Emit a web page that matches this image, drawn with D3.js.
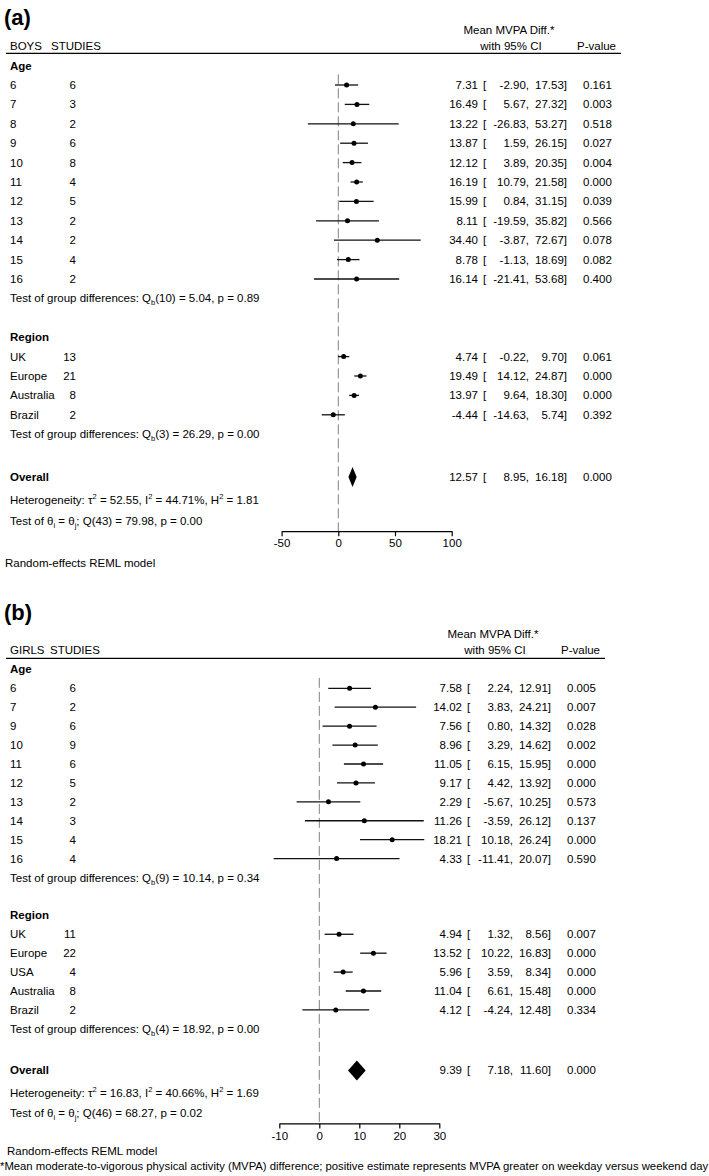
<!DOCTYPE html>
<html>
<head>
<meta charset="utf-8">
<script src="https://cdn.jsdelivr.net/npm/d3@7"></script>
<style>
  body { margin: 0; background: #fff; }
  text { font-family: "Liberation Sans", Arial, Helvetica, sans-serif; font-size: 11.5px; fill: #000; }
</style>
</head>
<body>
<svg id="canvas" width="709" height="1176"></svg>
<script>
// boys
const boysAges = ["6", "7", "8", "9", "10", "11", "12", "13", "14", "15", "16"];
const boysAgeStudies = [6, 3, 2, 6, 8, 4, 5, 2, 2, 4, 2];
const boysAgeEst = [7.31, 16.49, 13.22, 13.87, 12.12, 16.19, 15.99, 8.11, 34.40, 8.78, 16.14];
const boysAgeLo = [-2.90, 5.67, -26.83, 1.59, 3.89, 10.79, 0.84, -19.59, -3.87, -1.13, -21.41];
const boysAgeHi = [17.53, 27.32, 53.27, 26.15, 20.35, 21.58, 31.15, 35.82, 72.67, 18.69, 53.68];
const boysAgeP = [0.161, 0.003, 0.518, 0.027, 0.004, 0.000, 0.039, 0.566, 0.078, 0.082, 0.400];

const boysRegions = ["UK", "Europe", "Australia", "Brazil"];
const boysRegionStudies = [13, 21, 8, 2];
const boysRegionEst = [4.74, 19.49, 13.97, -4.44];
const boysRegionLo = [-0.22, 14.12, 9.64, -14.63];
const boysRegionHi = [9.70, 24.87, 18.30, 5.74];
const boysRegionP = [0.061, 0.000, 0.000, 0.392];

const boysOverall = [12.57, 8.95, 16.18, 0.000];
const boysAgeTest = ["10", "5.04", "0.89"];
const boysRegionTest = ["3", "26.29", "0.00"];
const boysHetero = ["52.55", "44.71%", "1.81"];
const boysQ = ["43", "79.98", "0.00"];
const boysTicks = [-50, 0, 50, 100];

// girls
const girlsAges = ["6", "7", "9", "10", "11", "12", "13", "14", "15", "16"];
const girlsAgeStudies = [6, 2, 6, 9, 6, 5, 2, 3, 4, 4];
const girlsAgeEst = [7.58, 14.02, 7.56, 8.96, 11.05, 9.17, 2.29, 11.26, 18.21, 4.33];
const girlsAgeLo = [2.24, 3.83, 0.80, 3.29, 6.15, 4.42, -5.67, -3.59, 10.18, -11.41];
const girlsAgeHi = [12.91, 24.21, 14.32, 14.62, 15.95, 13.92, 10.25, 26.12, 26.24, 20.07];
const girlsAgeP = [0.005, 0.007, 0.028, 0.002, 0.000, 0.000, 0.573, 0.137, 0.000, 0.590];

const girlsRegions = ["UK", "Europe", "USA", "Australia", "Brazil"];
const girlsRegionStudies = [11, 22, 4, 8, 2];
const girlsRegionEst = [4.94, 13.52, 5.96, 11.04, 4.12];
const girlsRegionLo = [1.32, 10.22, 3.59, 6.61, -4.24];
const girlsRegionHi = [8.56, 16.83, 8.34, 15.48, 12.48];
const girlsRegionP = [0.007, 0.000, 0.000, 0.000, 0.334];

const girlsOverall = [9.39, 7.18, 11.60, 0.000];
const girlsAgeTest = ["9", "10.14", "0.34"];
const girlsRegionTest = ["4", "18.92", "0.00"];
const girlsHetero = ["16.83", "40.66%", "1.69"];
const girlsQ = ["46", "68.27", "0.02"];
const girlsTicks = [-10, 0, 10, 20, 30];

const footnote =
  "*Mean moderate-to-vigorous physical activity (MVPA) difference; positive estimate represents MVPA greater on weekday versus weekend day";

const canvas = d3.select("#canvas");
const fmt = (v) => v.toFixed(2);
const fmtP = (v) => v.toFixed(3);

// text with little sub/superscripts: parts = [[str, "sub"|"sup"|""], ...]
const richText = (g, x, yy, parts) => {
  const t = g.append("text").attr("x", x).attr("y", yy);
  let shift = 0;
  parts.forEach(([s, mode]) => {
    const target = mode === "sub" ? 3 : mode === "sup" ? -5 : 0;
    const ts = t.append("tspan").attr("dy", target - shift).text(s);
    if (mode) ts.style("font-size", "7.5px");
    shift = target;
  });
  return t;
};

const drawPanel = (p) => {
  const g = canvas.append("g");
  const y = d3.scaleLinear().domain([0, 1]).range([p.y0, p.y0 + p.step]);
  const x = d3.scaleLinear().domain(p.domain).range(p.range);
  const bl = 4; // centre -> baseline
  const col = p.col;

  g.append("text").attr("x", 4).attr("y", p.labelY + 8)
    .attr("font-weight", "bold").style("font-size", "22px").text(p.label);

  g.append("text").attr("x", col + 31).attr("y", p.y0 - p.head1 + bl)
    .attr("text-anchor", "middle").text("Mean MVPA Diff.*");
  g.append("text").attr("x", col + 33).attr("y", p.y0 - p.head2 + bl)
    .attr("text-anchor", "middle").text("with 95% CI");
  g.append("text").attr("x", col + 99).attr("y", p.y0 - p.head2 + bl).text("P-value");
  g.append("text").attr("x", 10).attr("y", p.y0 - p.head2 + bl).text(p.sex);
  g.append("text").attr("x", p.studiesX).attr("y", p.y0 - p.head2 + bl).text("STUDIES");
  g.append("line")
    .attr("x1", 6).attr("x2", col + 143)
    .attr("y1", p.y0 - p.lineOff).attr("y2", p.y0 - p.lineOff)
    .attr("stroke", "#000").attr("stroke-width", 1.3);

  const ageRows = p.ages.map((a, i) => ({
    label: a, n: p.ageStudies[i], est: p.ageEst[i], lo: p.ageLo[i], hi: p.ageHi[i], pv: p.ageP[i], row: i,
  }));
  const regStart = p.ages.length + 3;
  const regRows = p.regions.map((r, i) => ({
    label: r, n: p.regionStudies[i], est: p.regionEst[i], lo: p.regionLo[i], hi: p.regionHi[i], pv: p.regionP[i], row: regStart + i,
  }));
  const rows = ageRows.concat(regRows);
  const testAgeRow = p.ages.length;
  const testRegRow = regStart + p.regions.length;
  const overallRow = 20.2;

  // zero line
  g.append("line")
    .attr("x1", x(0)).attr("x2", x(0))
    .attr("y1", y(-0.55)).attr("y2", y(23))
    .attr("stroke", "#808080").attr("stroke-width", 1).attr("stroke-dasharray", "10,4");

  g.append("text").attr("x", 10).attr("y", y(-1) + bl).attr("font-weight", "bold").text("Age");
  g.append("text").attr("x", 10).attr("y", y(regStart - 1) + bl).attr("font-weight", "bold").text("Region");
  g.append("text").attr("x", 10).attr("y", y(overallRow) + bl).attr("font-weight", "bold").text("Overall");

  const r = g.selectAll("g.row").data(rows).enter().append("g").attr("class", "row");
  r.append("text").attr("x", 10).attr("y", (d) => y(d.row) + bl).text((d) => d.label);
  r.append("text").attr("x", 76).attr("y", (d) => y(d.row) + bl).attr("text-anchor", "end").text((d) => d.n);
  r.append("line")
    .attr("x1", (d) => x(d.lo)).attr("x2", (d) => x(d.hi))
    .attr("y1", (d) => y(d.row)).attr("y2", (d) => y(d.row))
    .attr("stroke", "#111").attr("stroke-width", 1.3);
  r.append("circle").attr("cx", (d) => x(d.est)).attr("cy", (d) => y(d.row)).attr("r", 2.5).attr("fill", "#000");

  const numbers = (sel, rowOf) => {
    sel.append("text").attr("x", col).attr("y", (d) => y(rowOf(d)) + bl).attr("text-anchor", "end").text((d) => fmt(d.est));
    sel.append("text").attr("x", col + 5).attr("y", (d) => y(rowOf(d)) + bl).text("[");
    sel.append("text").attr("x", col + 51).attr("y", (d) => y(rowOf(d)) + bl).attr("text-anchor", "end").text((d) => fmt(d.lo) + ",");
    sel.append("text").attr("x", col + 89).attr("y", (d) => y(rowOf(d)) + bl).attr("text-anchor", "end").text((d) => fmt(d.hi) + "]");
    sel.append("text").attr("x", col + 105).attr("y", (d) => y(rowOf(d)) + bl).text((d) => fmtP(d.pv));
  };
  numbers(r, (d) => d.row);

  const ov = { est: p.overall[0], lo: p.overall[1], hi: p.overall[2], pv: p.overall[3] };
  const og = g.append("g").datum(ov);
  numbers(og, () => overallRow);
  const yc = y(overallRow);
  og.append("path")
    .attr("d", (d) => `M${x(d.lo)},${yc} L${x(d.est)},${yc - 10} L${x(d.hi)},${yc} L${x(d.est)},${yc + 10} Z`)
    .attr("fill", "#000");

  richText(g, 10, y(testAgeRow) + bl, [
    ["Test of group differences: Q", ""], ["b", "sub"],
    [`(${p.ageTest[0]}) = ${p.ageTest[1]}, p = ${p.ageTest[2]}`, ""],
  ]);
  richText(g, 10, y(testRegRow) + bl, [
    ["Test of group differences: Q", ""], ["b", "sub"],
    [`(${p.regionTest[0]}) = ${p.regionTest[1]}, p = ${p.regionTest[2]}`, ""],
  ]);
  richText(g, 10, y(21.4) + bl, [
    ["Heterogeneity: τ", ""], ["2", "sup"], [` = ${p.hetero[0]}, I`, ""], ["2", "sup"],
    [` = ${p.hetero[1]}, H`, ""], ["2", "sup"], [` = ${p.hetero[2]}`, ""],
  ]);
  richText(g, 10, y(22.45) + bl, [
    ["Test of θ", ""], ["i", "sub"], [" = θ", ""], ["j", "sub"],
    [`; Q(${p.q[0]}) = ${p.q[1]}, p = ${p.q[2]}`, ""],
  ]);

  const axis = g.append("g")
    .attr("transform", `translate(0,${y(23)})`)
    .call(d3.axisBottom(x).tickValues(p.ticks).tickSize(5).tickSizeOuter(0).tickFormat((d) => String(d)));
  axis.attr("font-family", null).attr("font-size", null);
  axis.select(".domain").attr("stroke", "#000").attr("stroke-width", 1.2);
  axis.selectAll(".tick line").attr("stroke", "#000").attr("stroke-width", 1.2);
  axis.selectAll(".tick text").attr("fill", "#000").style("font-size", "11.5px");

  g.append("text").attr("x", p.modelX).attr("y", p.modelY + bl).text("Random-effects REML model");
};

drawPanel({
  label: "(a)", sex: "BOYS", studiesX: 51, labelY: 17,
  y0: 85, step: 19.4, head1: 55, head2: 39.3, lineOff: 31.7,
  domain: [-50, 100], range: [281.6, 451.7], ticks: boysTicks, col: 478,
  ages: boysAges, ageStudies: boysAgeStudies, ageEst: boysAgeEst, ageLo: boysAgeLo, ageHi: boysAgeHi, ageP: boysAgeP,
  regions: boysRegions, regionStudies: boysRegionStudies, regionEst: boysRegionEst, regionLo: boysRegionLo,
  regionHi: boysRegionHi, regionP: boysRegionP,
  overall: boysOverall, ageTest: boysAgeTest, regionTest: boysRegionTest, hetero: boysHetero, q: boysQ,
  modelX: 5, modelY: 563,
});

drawPanel({
  label: "(b)", sex: "GIRLS", studiesX: 50, labelY: 612,
  y0: 688.3, step: 18.92, head1: 54, head2: 38.3, lineOff: 30,
  domain: [-10, 30], range: [279.3, 439.3], ticks: girlsTicks, col: 462,
  ages: girlsAges, ageStudies: girlsAgeStudies, ageEst: girlsAgeEst, ageLo: girlsAgeLo, ageHi: girlsAgeHi, ageP: girlsAgeP,
  regions: girlsRegions, regionStudies: girlsRegionStudies, regionEst: girlsRegionEst, regionLo: girlsRegionLo,
  regionHi: girlsRegionHi, regionP: girlsRegionP,
  overall: girlsOverall, ageTest: girlsAgeTest, regionTest: girlsRegionTest, hetero: girlsHetero, q: girlsQ,
  modelX: 7, modelY: 1151,
});

canvas.append("text").attr("x", 0).attr("y", 1170).style("font-size", "11.3px").text(footnote);
</script>
</body>
</html>
